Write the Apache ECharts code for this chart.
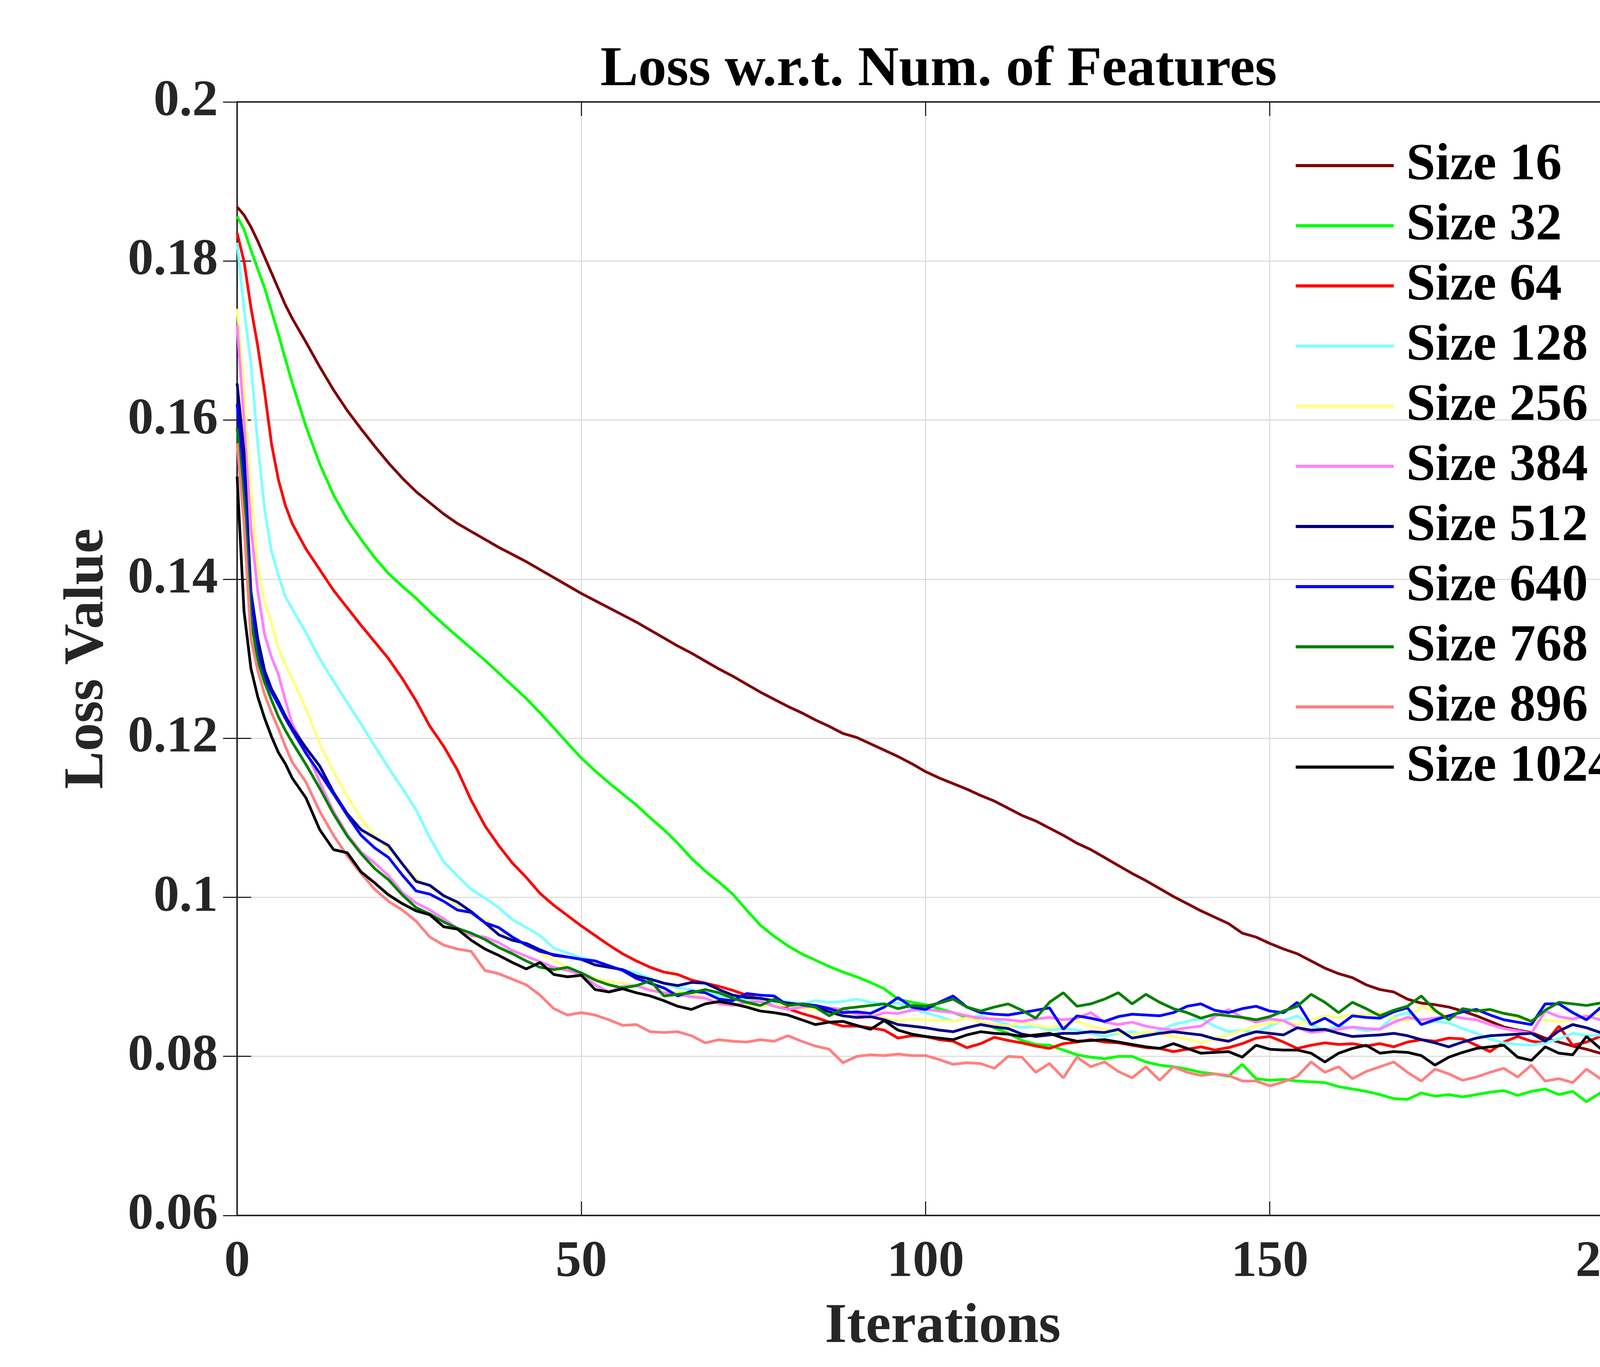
<!DOCTYPE html>
<html>
<head>
<meta charset="utf-8">
<script src="https://cdn.jsdelivr.net/npm/echarts@6.0.0/dist/echarts.min.js"></script>
<style>
html,body{margin:0;padding:0;background:#fff;}
#chart{width:4667px;height:3500px;}
</style>
</head>
<body>
<div id="chart"></div>
<script>
const iterations = [0,1,2,3,4,5,6,7,8,
10,12,14,16,18,20,22,24,26,28,
30,32,34,36,38,40,42,44,46,48,
50,52,54,56,58,60,62,64,66,68,
70,72,74,76,78,80,82,84,86,88,
90,92,94,96,98,100,102,104,106,108,
110,112,114,116,118,120,122,124,126,128,
130,132,134,136,138,140,142,144,146,148,
150,152,154,156,158,160,162,164,166,168,
170,172,174,176,178,180,182,184,186,188,
190,192,194,196,198,200];

const size16 = [0.1868,0.1858,0.1843,0.1825,0.1805,0.1785,0.1765,0.1745,0.1728,
0.1698,0.1667,0.1638,0.1612,0.1589,0.1567,0.1546,0.1527,0.1510,0.1496,
0.1482,0.1470,0.1460,0.1450,0.1440,0.1431,0.1422,0.1412,0.1402,0.1392,
0.1382,0.1373,0.1364,0.1355,0.1346,0.1336,0.1326,0.1316,0.1307,0.1297,
0.1287,0.1278,0.1268,0.1258,0.1249,0.1240,0.1232,0.1223,0.1215,0.1206,
0.1201,0.1193,0.1185,0.1177,0.1168,0.1158,0.1150,0.1143,0.1136,0.1128,
0.1121,0.1112,0.1103,0.1096,0.1087,0.1078,0.1068,0.1060,0.1050,0.1040,
0.1030,0.1021,0.1011,0.1001,0.0992,0.0983,0.0975,0.0967,0.0955,0.0950,
0.0942,0.0935,0.0929,0.0920,0.0911,0.0904,0.0899,0.0890,0.0884,0.0881,
0.0872,0.0867,0.0865,0.0862,0.0857,0.0851,0.0844,0.0837,0.0833,0.0830,
0.0823,0.0818,0.0813,0.0809,0.0804,0.0809];

const size32 = [0.1856,0.1840,0.1814,0.1790,0.1766,0.1737,0.1708,0.1677,0.1647,
0.1592,0.1545,0.1506,0.1475,0.1450,0.1427,0.1407,0.1391,0.1376,0.1359,
0.1343,0.1328,0.1313,0.1298,0.1282,0.1266,0.1250,0.1232,0.1213,0.1194,
0.1175,0.1159,0.1144,0.1130,0.1116,0.1100,0.1085,0.1068,0.1049,0.1033,
0.1019,0.1004,0.0984,0.0965,0.0951,0.0939,0.0929,0.0921,0.0913,0.0906,
0.0900,0.0893,0.0885,0.0872,0.0868,0.0865,0.0860,0.0855,0.0849,0.0843,
0.0836,0.0829,0.0820,0.0815,0.0814,0.0808,0.0802,0.0799,0.0797,0.0800,
0.0800,0.0793,0.0789,0.0787,0.0784,0.0780,0.0778,0.0775,0.0790,0.0772,
0.0770,0.0771,0.0769,0.0768,0.0767,0.0762,0.0759,0.0756,0.0752,0.0747,
0.0746,0.0754,0.0750,0.0752,0.0749,0.0752,0.0755,0.0757,0.0751,0.0756,
0.0759,0.0752,0.0756,0.0743,0.0754,0.0745];

const size64 = [0.1835,0.1800,0.1742,0.1693,0.1635,0.1570,0.1525,0.1493,0.1470,
0.1438,0.1412,0.1386,0.1364,0.1342,0.1321,0.1300,0.1275,0.1247,0.1215,
0.1190,0.1160,0.1122,0.1090,0.1065,0.1043,0.1025,0.1005,0.0990,0.0977,
0.0964,0.0952,0.0940,0.0929,0.0920,0.0912,0.0906,0.0903,0.0896,0.0892,
0.0888,0.0883,0.0877,0.0872,0.0866,0.0860,0.0854,0.0849,0.0843,0.0838,
0.0838,0.0836,0.0833,0.0823,0.0826,0.0825,0.0821,0.0819,0.0811,0.0816,
0.0824,0.0820,0.0817,0.0813,0.0810,0.0816,0.0818,0.0821,0.0818,0.0817,
0.0814,0.0811,0.0810,0.0806,0.0809,0.0812,0.0808,0.0811,0.0816,0.0823,
0.0825,0.0818,0.0810,0.0814,0.0817,0.0815,0.0816,0.0813,0.0816,0.0812,
0.0818,0.0821,0.0819,0.0823,0.0822,0.0814,0.0806,0.0818,0.0825,0.0819,
0.0817,0.0838,0.0814,0.0818,0.0825,0.0821];

const size128 = [0.1823,0.1740,0.1672,0.1570,0.1488,0.1435,0.1405,0.1378,0.1363,
0.1333,0.1300,0.1272,0.1245,0.1218,0.1190,0.1163,0.1137,0.1110,0.1075,
0.1045,0.1027,0.1010,0.0999,0.0987,0.0972,0.0962,0.0952,0.0936,0.0930,
0.0924,0.0920,0.0914,0.0909,0.0905,0.0898,0.0892,0.0886,0.0884,0.0880,
0.0876,0.0874,0.0872,0.0870,0.0868,0.0869,0.0866,0.0870,0.0868,0.0869,
0.0872,0.0868,0.0866,0.0867,0.0860,0.0855,0.0850,0.0844,0.0848,0.0851,
0.0845,0.0840,0.0836,0.0838,0.0833,0.0835,0.0833,0.0829,0.0825,0.0829,
0.0831,0.0827,0.0832,0.0840,0.0844,0.0848,0.0838,0.0831,0.0833,0.0830,
0.0838,0.0845,0.0851,0.0840,0.0833,0.0838,0.0836,0.0832,0.0835,0.0850,
0.0855,0.0840,0.0844,0.0842,0.0835,0.0829,0.0822,0.0817,0.0815,0.0814,
0.0817,0.0822,0.0829,0.0826,0.0827,0.0819];

const size256 = [0.1740,0.1640,0.1510,0.1415,0.1371,0.1345,0.1314,0.1293,0.1275,
0.1237,0.1193,0.1158,0.1127,0.1099,0.1077,0.1061,0.1043,0.1024,0.1013,
0.1003,0.0988,0.0978,0.0971,0.0960,0.0949,0.0939,0.0930,0.0921,0.0912,
0.0904,0.0898,0.0894,0.0892,0.0889,0.0885,0.0880,0.0881,0.0878,0.0875,
0.0868,0.0864,0.0866,0.0863,0.0865,0.0864,0.0861,0.0859,0.0855,0.0850,
0.0853,0.0855,0.0848,0.0845,0.0847,0.0846,0.0845,0.0844,0.0848,0.0843,
0.0840,0.0838,0.0843,0.0839,0.0836,0.0840,0.0844,0.0838,0.0834,0.0830,
0.0827,0.0831,0.0828,0.0825,0.0822,0.0817,0.0822,0.0827,0.0833,0.0838,
0.0842,0.0844,0.0840,0.0846,0.0851,0.0849,0.0853,0.0852,0.0855,0.0848,
0.0844,0.0863,0.0856,0.0851,0.0856,0.0859,0.0857,0.0855,0.0848,0.0844,
0.0846,0.0843,0.0846,0.0850,0.0853,0.0840];

const size384 = [0.1720,0.1600,0.1465,0.1385,0.1330,0.1302,0.1280,0.1248,0.1218,
0.1185,0.1145,0.1108,0.1079,0.1057,0.1043,0.1027,0.1006,0.0993,0.0984,
0.0973,0.0961,0.0952,0.0950,0.0943,0.0933,0.0926,0.0919,0.0912,0.0908,
0.0903,0.0890,0.0881,0.0888,0.0889,0.0883,0.0880,0.0878,0.0875,0.0873,
0.0866,0.0864,0.0868,0.0869,0.0863,0.0859,0.0862,0.0864,0.0861,0.0859,
0.0853,0.0849,0.0855,0.0854,0.0858,0.0859,0.0857,0.0855,0.0851,0.0848,
0.0847,0.0846,0.0844,0.0847,0.0849,0.0846,0.0848,0.0855,0.0843,0.0840,
0.0843,0.0838,0.0835,0.0833,0.0836,0.0838,0.0850,0.0859,0.0849,0.0843,
0.0847,0.0845,0.0836,0.0830,0.0832,0.0834,0.0837,0.0835,0.0834,0.0843,
0.0849,0.0846,0.0848,0.0851,0.0848,0.0846,0.0840,0.0835,0.0832,0.0829,
0.0857,0.0850,0.0847,0.0851,0.0846,0.0844];

const size512 = [0.1646,0.1560,0.1385,0.1325,0.1285,0.1262,0.1246,0.1228,0.1213,
0.1188,0.1165,0.1132,0.1105,0.1085,0.1075,0.1065,0.1042,0.1020,0.1015,
0.1002,0.0994,0.0982,0.0968,0.0953,0.0946,0.0942,0.0934,0.0927,0.0925,
0.0922,0.0915,0.0912,0.0909,0.0901,0.0897,0.0892,0.0889,0.0893,0.0892,
0.0884,0.0877,0.0874,0.0873,0.0870,0.0867,0.0865,0.0862,0.0856,0.0851,
0.0849,0.0850,0.0846,0.0840,0.0838,0.0836,0.0833,0.0831,0.0836,0.0840,
0.0837,0.0835,0.0828,0.0825,0.0827,0.0829,0.0829,0.0831,0.0830,0.0834,
0.0823,0.0826,0.0829,0.0831,0.0829,0.0827,0.0822,0.0819,0.0826,0.0831,
0.0829,0.0827,0.0836,0.0833,0.0834,0.0829,0.0825,0.0826,0.0827,0.0829,
0.0826,0.0821,0.0817,0.0812,0.0818,0.0823,0.0826,0.0827,0.0828,0.0829,
0.0819,0.0832,0.0840,0.0836,0.0830,0.0834];

const size640 = [0.1620,0.1530,0.1380,0.1310,0.1277,0.1258,0.1242,0.1225,0.1210,
0.1181,0.1156,0.1130,0.1103,0.1078,0.1062,0.1050,0.1028,0.1008,0.1004,
0.0995,0.0984,0.0981,0.0968,0.0962,0.0950,0.0940,0.0932,0.0928,0.0925,
0.0922,0.0920,0.0914,0.0908,0.0898,0.0892,0.0886,0.0876,0.0882,0.0880,
0.0872,0.0870,0.0879,0.0877,0.0876,0.0864,0.0866,0.0864,0.0860,0.0855,
0.0856,0.0854,0.0862,0.0874,0.0862,0.0859,0.0868,0.0876,0.0862,0.0855,
0.0853,0.0852,0.0855,0.0858,0.0861,0.0834,0.0851,0.0848,0.0844,0.0850,
0.0853,0.0852,0.0851,0.0855,0.0863,0.0866,0.0858,0.0855,0.0860,0.0863,
0.0857,0.0855,0.0868,0.0840,0.0848,0.0838,0.0851,0.0849,0.0848,0.0856,
0.0861,0.0840,0.0846,0.0851,0.0856,0.0859,0.0852,0.0846,0.0843,0.0840,
0.0866,0.0866,0.0855,0.0846,0.0861,0.0850];

const size768 = [0.1590,0.1500,0.1350,0.1298,0.1270,0.1248,0.1227,0.1210,0.1195,
0.1167,0.1137,0.1105,0.1077,0.1055,0.1036,0.1022,0.1003,0.0987,0.0979,
0.0969,0.0961,0.0955,0.0947,0.0937,0.0929,0.0920,0.0912,0.0909,0.0912,
0.0905,0.0896,0.0890,0.0886,0.0889,0.0895,0.0876,0.0878,0.0880,0.0884,
0.0880,0.0873,0.0868,0.0864,0.0872,0.0864,0.0866,0.0862,0.0851,0.0860,
0.0862,0.0864,0.0866,0.0860,0.0864,0.0863,0.0867,0.0872,0.0862,0.0857,
0.0862,0.0866,0.0858,0.0848,0.0868,0.0880,0.0863,0.0866,0.0872,0.0880,
0.0866,0.0878,0.0868,0.0860,0.0855,0.0848,0.0853,0.0851,0.0849,0.0846,
0.0850,0.0857,0.0863,0.0878,0.0868,0.0855,0.0868,0.0860,0.0851,0.0858,
0.0863,0.0876,0.0858,0.0846,0.0860,0.0857,0.0859,0.0854,0.0851,0.0844,
0.0858,0.0868,0.0866,0.0864,0.0867,0.0864];

const size896 = [0.1571,0.1470,0.1325,0.1285,0.1255,0.1232,0.1212,0.1190,0.1170,
0.1145,0.1108,0.1078,0.1052,0.1030,0.1010,0.0995,0.0984,0.0970,0.0950,
0.0940,0.0935,0.0932,0.0908,0.0904,0.0897,0.0890,0.0877,0.0860,0.0852,
0.0855,0.0852,0.0846,0.0839,0.0840,0.0831,0.0830,0.0831,0.0826,0.0817,
0.0821,0.0819,0.0818,0.0821,0.0819,0.0826,0.0819,0.0813,0.0809,0.0792,
0.0800,0.0802,0.0801,0.0803,0.0801,0.0801,0.0796,0.0790,0.0792,0.0791,
0.0785,0.0800,0.0799,0.0780,0.0791,0.0773,0.0799,0.0787,0.0793,0.0781,
0.0773,0.0787,0.0770,0.0787,0.0780,0.0776,0.0778,0.0776,0.0769,0.0769,
0.0763,0.0768,0.0775,0.0793,0.0780,0.0787,0.0772,0.0781,0.0787,0.0793,
0.0780,0.0769,0.0784,0.0778,0.0770,0.0774,0.0780,0.0785,0.0774,0.0789,
0.0769,0.0772,0.0767,0.0784,0.0772,0.0772];

const size1024 = [0.1529,0.1360,0.1288,0.1252,0.1225,0.1202,0.1182,0.1168,0.1150,
0.1125,0.1085,0.1060,0.1056,0.1032,0.1018,0.1003,0.0992,0.0983,0.0978,
0.0963,0.0960,0.0946,0.0935,0.0927,0.0918,0.0910,0.0918,0.0903,0.0900,
0.0902,0.0884,0.0881,0.0885,0.0880,0.0876,0.0870,0.0863,0.0859,0.0866,
0.0869,0.0866,0.0862,0.0857,0.0855,0.0852,0.0846,0.0840,0.0843,0.0844,
0.0839,0.0834,0.0845,0.0833,0.0828,0.0825,0.0823,0.0821,0.0827,0.0831,
0.0829,0.0828,0.0825,0.0827,0.0829,0.0823,0.0819,0.0820,0.0821,0.0818,
0.0815,0.0812,0.0810,0.0816,0.0810,0.0804,0.0805,0.0806,0.0799,0.0814,
0.0809,0.0808,0.0808,0.0804,0.0793,0.0804,0.0810,0.0814,0.0804,0.0806,
0.0805,0.0801,0.0789,0.0799,0.0805,0.0810,0.0812,0.0814,0.0799,0.0795,
0.0812,0.0804,0.0802,0.0825,0.0810,0.0816];

const seriesNames = ['Size 16','Size 32','Size 64','Size 128','Size 256','Size 384','Size 512','Size 640','Size 768','Size 896','Size 1024'];
const seriesValues = [size16,size32,size64,size128,size256,size384,size512,size640,size768,size896,size1024];
const seriesColors = ['#800000','#00FF00','#FF0000','#80FFFF','#FFFF80','#FF80FF','#000080','#0000FF','#008000','#FF8080','#000000'];
const xTicks = [0,50,100,150,200];
const yTicks = [0.06,0.08,0.1,0.12,0.14,0.16,0.18,0.2];

const FONT = "'Times New Roman','Liberation Serif',serif";
const AX = '#262626';

const chart = echarts.init(document.getElementById('chart'), null, {renderer:'canvas', devicePixelRatio:1, width:4667, height:3500});

const series = seriesNames.map((name, k) => ({
  name: name,
  type: 'line',
  xAxisIndex: 0,
  yAxisIndex: 0,
  color: seriesColors[k],
  showSymbol: false,
  symbol: 'none',
  lineStyle: {width: 7, color: seriesColors[k]},
  data: iterations.map((it, i) => [it, seriesValues[k][i]])
}));

const option = {
  animation: false,
  backgroundColor: '#ffffff',
  title: {
    text: 'Loss w.r.t. Num. of Features',
    left: 1537, top: 108, padding: 0,
    textStyle: {fontFamily: FONT, fontSize: 145, fontWeight: 'bold', color: '#000', lineHeight: 145}
  },
  legend: {
    data: seriesNames,
    orient: 'vertical',
    left: 3317, top: 357, padding: 0,
    icon: 'rect',
    itemWidth: 251, itemHeight: 8, itemGap: 20,
    selectedMode: false,
    textStyle: {fontFamily: FONT, fontSize: 134, fontWeight: 'bold', color: '#000', lineHeight: 134, padding: [0,0,0,27]}
  },
  grid: {left: 607, right: 447, top: 261, bottom: 388, containLabel: false},
  xAxis: [{
    type: 'value', position: 'bottom', min: 0, max: 205, interval: 50,
    name: 'Iterations', nameLocation: 'middle', nameGap: 214,
    nameTextStyle: {fontFamily: FONT, fontSize: 145, fontWeight: 'bold', color: AX, lineHeight: 145},
    axisLine: {show: true, lineStyle: {color: AX, width: 4}},
    axisTick: {show: true, inside: true, length: 36, lineStyle: {color: AX, width: 3}},
    axisLabel: {fontFamily: FONT, fontSize: 132, fontWeight: 'bold', color: AX, margin: 55, lineHeight: 132,
      formatter: v => xTicks.includes(Math.round(v)) && Math.abs(v - Math.round(v)) < 1e-6 ? String(Math.round(v)) : ''},
    splitLine: {show: true, lineStyle: {color: '#dedede', width: 3}}
  }, {
    type: 'value', position: 'top', min: 0, max: 205, interval: 50,
    axisLine: {show: true, lineStyle: {color: AX, width: 4}},
    axisTick: {show: true, inside: true, length: 36, lineStyle: {color: AX, width: 3}},
    axisLabel: {show: false},
    splitLine: {show: false}
  }],
  yAxis: [{
    type: 'value', position: 'left', min: 0.06, max: 0.2, interval: 0.02,
    name: 'Loss Value', nameLocation: 'middle', nameGap: 310, nameRotate: 90,
    nameTextStyle: {fontFamily: FONT, fontSize: 145, fontWeight: 'bold', color: AX, lineHeight: 145},
    axisLine: {show: true, lineStyle: {color: AX, width: 4}},
    axisTick: {show: true, inside: true, length: 36, lineStyle: {color: AX, width: 3}},
    axisLabel: {fontFamily: FONT, fontSize: 132, fontWeight: 'bold', color: AX, margin: 49,
      formatter: v => { const r = parseFloat(v.toFixed(2)); return yTicks.some(t => Math.abs(t - r) < 1e-9) ? String(r) : ''; }},
    splitLine: {show: true, lineStyle: {color: '#dedede', width: 3}}
  }, {
    type: 'value', position: 'right', min: 0.06, max: 0.2, interval: 0.02,
    axisLine: {show: true, lineStyle: {color: AX, width: 4}},
    axisTick: {show: true, inside: true, length: 36, lineStyle: {color: AX, width: 3}},
    axisLabel: {show: false},
    splitLine: {show: false}
  }],
  series: series
};
chart.setOption(option);
</script>
</body>
</html>
